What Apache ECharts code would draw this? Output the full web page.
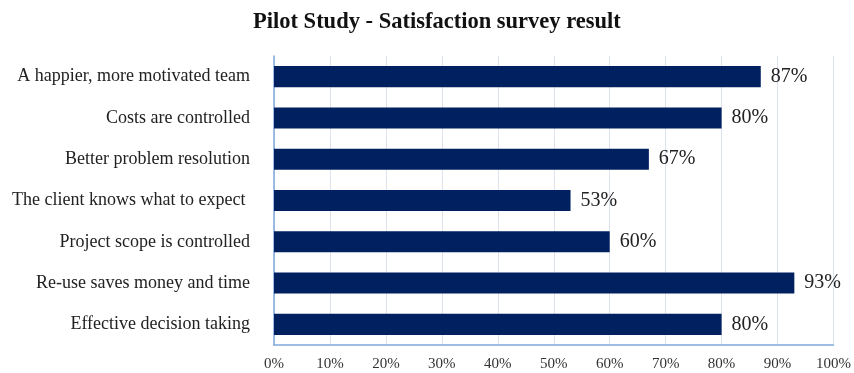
<!DOCTYPE html>
<html>
<head>
<meta charset="utf-8">
<script src="https://cdn.jsdelivr.net/npm/echarts@6/dist/echarts.min.js"></script>
<style>html,body{margin:0;padding:0;background:#fff}#c{width:854px;height:373px}</style>
</head>
<body>
<div id="c"></div>
<script>
const categories = [
  "A happier, more motivated team",
  "Costs are controlled",
  "Better problem resolution",
  "The client knows what to expect ",
  "Project scope is controlled",
  "Re-use saves money and time",
  "Effective decision taking"
];
const values = [87, 80, 67, 53, 60, 93, 80];
const titleText = "Pilot Study - Satisfaction survey result";

const chart = echarts.init(document.getElementById('c'));
chart.setOption({
  animation: false,
  title: {
    text: titleText, left: 248, top: 6,
    textStyle: {fontFamily: 'Liberation Serif', fontWeight: 'bold', fontSize: 22.5, color: '#111'}
  },
  grid: {left: 274, right: 15, top: 56, bottom: 28, containLabel: false},
  xAxis: {
    type: 'value', min: 0, max: 100, interval: 10,
    axisLabel: {formatter: '{value}%', fontFamily: 'Liberation Serif', fontSize: 15, color: '#333', margin: 12},
    axisLine: {show: true, lineStyle: {color: '#7fa9dc', width: 1.5}},
    axisTick: {show: false},
    splitLine: {show: true, lineStyle: {color: '#dde3ee', width: 1}}
  },
  yAxis: {
    type: 'category', data: categories, inverse: true,
    axisLabel: {fontFamily: 'Liberation Serif', fontSize: 18, color: '#222', margin: 24},
    axisLine: {show: true, lineStyle: {color: '#7fa9dc', width: 1.5}},
    axisTick: {show: false}
  },
  series: [{
    type: 'bar', data: values, barWidth: '51%',
    itemStyle: {color: '#002060'},
    label: {show: true, position: 'right', formatter: '{c}%', distance: 10,
      fontFamily: 'Liberation Serif', fontSize: 20, color: '#222'}
  }]
});
</script>
</body>
</html>
